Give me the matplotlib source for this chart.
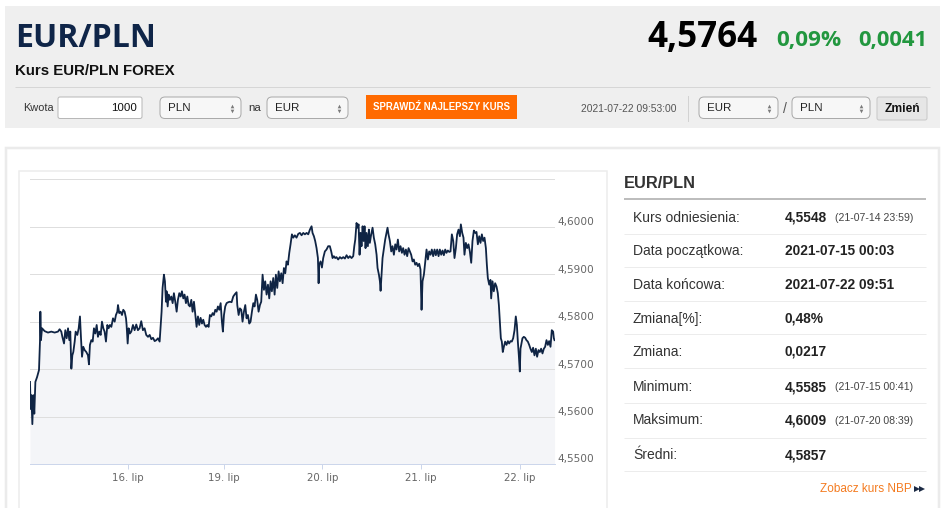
import matplotlib
matplotlib.use('Agg')
import matplotlib.pyplot as plt
from matplotlib.patches import Rectangle, FancyBboxPatch
from matplotlib.transforms import ScaledTranslation

# --- data (x = trading days from 15 Jul 00:00) ---
days = [0.000, 0.007, 0.014, 0.024, 0.034, 0.044, 0.055, 0.072, 0.092, 0.102, 0.106, 0.112, 0.123, 0.150,
        0.184, 0.218, 0.252, 0.286, 0.303, 0.320, 0.331, 0.348, 0.361, 0.375, 0.389, 0.402, 0.412, 0.423,
        0.433, 0.443, 0.457, 0.467, 0.484, 0.498, 0.511, 0.521, 0.532, 0.545, 0.559, 0.576, 0.593, 0.603,
        0.613, 0.627, 0.641, 0.654, 0.668, 0.682, 0.695, 0.709, 0.723, 0.736, 0.750, 0.763, 0.777, 0.791,
        0.804, 0.818, 0.832, 0.849, 0.866, 0.879, 0.893, 0.900, 0.913, 0.927, 0.941, 0.954, 0.968, 0.982,
        0.988, 0.999, 1.009, 1.022, 1.036, 1.053, 1.070, 1.087, 1.104, 1.121, 1.138, 1.155, 1.172, 1.189,
        1.207, 1.224, 1.241, 1.258, 1.275, 1.292, 1.309, 1.326,
        1.346, 1.356, 1.370, 1.380, 1.391, 1.397, 1.408, 1.418, 1.431, 1.445, 1.459, 1.472, 1.486, 1.500,
        1.513, 1.527, 1.541, 1.554, 1.568, 1.581, 1.595, 1.609, 1.622, 1.636, 1.650, 1.663, 1.677, 1.691,
        1.704, 1.718, 1.731, 1.745, 1.759, 1.772, 1.786, 1.800, 1.813, 1.827, 1.840, 1.854, 1.868, 1.881,
        1.895, 1.909, 1.922, 1.936, 1.950, 1.963, 1.973, 1.984, 1.997, 2.011, 2.028, 2.045, 2.062, 2.079,
        2.096, 2.113, 2.120, 2.134, 2.147, 2.161, 2.174, 2.188, 2.202, 2.215, 2.229, 2.243, 2.256, 2.270,
        2.284, 2.297, 2.311, 2.324, 2.338, 2.352, 2.365, 2.379, 2.393, 2.406, 2.420, 2.434, 2.447, 2.461,
        2.474, 2.488, 2.502, 2.515, 2.529, 2.543, 2.556, 2.570, 2.584, 2.597, 2.611, 2.624, 2.638, 2.652,
        2.665, 2.679, 2.693, 2.709, 2.726, 2.744, 2.761, 2.778, 2.795, 2.812, 2.829, 2.846, 2.863, 2.880,
        2.890, 2.904, 2.917, 2.931, 2.945, 2.952, 2.958, 2.972, 2.986, 2.999, 3.016, 3.033, 3.050, 3.067,
        3.081, 3.095, 3.108, 3.122, 3.135, 3.152, 3.170, 3.187, 3.204, 3.221, 3.238, 3.255, 3.272, 3.289,
        3.306, 3.317, 3.327, 3.340, 3.351, 3.361, 3.371, 3.381, 3.391, 3.402, 3.412, 3.422, 3.432, 3.442,
        3.456, 3.466, 3.476, 3.490, 3.504, 3.517, 3.531, 3.545, 3.555, 3.569, 3.579, 3.586, 3.596, 3.606,
        3.620, 3.633, 3.647, 3.657, 3.667, 3.681, 3.695, 3.708, 3.722, 3.736, 3.749, 3.763, 3.776, 3.790,
        3.804, 3.817, 3.831, 3.845, 3.858, 3.872, 3.885, 3.899, 3.913, 3.926, 3.940, 3.954, 3.967, 3.981,
        3.994, 4.005, 4.015, 4.029, 4.042, 4.056, 4.070, 4.083, 4.097, 4.110, 4.124, 4.138, 4.151, 4.165,
        4.179, 4.192, 4.206, 4.220, 4.233, 4.247, 4.260, 4.274, 4.288, 4.301, 4.315, 4.329, 4.342, 4.356,
        4.369, 4.383, 4.397, 4.407, 4.421, 4.434, 4.444, 4.458, 4.472, 4.485, 4.499, 4.513, 4.526, 4.540,
        4.554, 4.567, 4.581, 4.595, 4.608, 4.622, 4.635, 4.649, 4.663, 4.673, 4.683, 4.697, 4.710, 4.717,
        4.731, 4.744, 4.758, 4.772, 4.785, 4.796, 4.806, 4.816, 4.826, 4.836, 4.847, 4.860, 4.874, 4.888,
        4.901, 4.915, 4.928, 4.942, 4.956, 4.969, 4.980, 4.990, 5.000, 5.010, 5.017, 5.027, 5.037, 5.051,
        5.065, 5.078, 5.092, 5.106, 5.119, 5.133, 5.146, 5.160, 5.174, 5.187, 5.201, 5.215, 5.228, 5.242,
        5.256, 5.269, 5.283, 5.297, 5.310, 5.324, 5.337, 5.351, 5.358, 5.365]
rate = [4.5673, 4.5616, 4.5645, 4.5584, 4.5645, 4.5606, 4.5673, 4.5683, 4.5698, 4.5758, 4.5821, 4.5761, 4.5786, 4.5780,
        4.5777, 4.5779, 4.5777, 4.5779, 4.5784, 4.5779, 4.5768, 4.5754, 4.5782, 4.5765, 4.5786, 4.5761, 4.5779, 4.5701,
        4.5729, 4.5736, 4.5758, 4.5779, 4.5772, 4.5786, 4.5811, 4.5768, 4.5726, 4.5747, 4.5740, 4.5736, 4.5729, 4.5710,
        4.5751, 4.5761, 4.5758, 4.5786, 4.5775, 4.5793, 4.5768, 4.5779, 4.5772, 4.5800, 4.5786, 4.5779, 4.5758, 4.5793,
        4.5786, 4.5793, 4.5789, 4.5807, 4.5800, 4.5814, 4.5821, 4.5835, 4.5818, 4.5821, 4.5814, 4.5825, 4.5821, 4.5807,
        4.5793, 4.5754, 4.5786, 4.5775, 4.5779, 4.5793, 4.5782, 4.5794, 4.5782, 4.5786, 4.5801, 4.5782, 4.5786, 4.5772,
        4.5768, 4.5772, 4.5763, 4.5766, 4.5759, 4.5761, 4.5765, 4.5758,
        4.5821, 4.5871, 4.5899, 4.5885, 4.5842, 4.5864, 4.5832, 4.5857, 4.5846, 4.5853, 4.5839, 4.5860, 4.5842, 4.5821,
        4.5846, 4.5860, 4.5853, 4.5864, 4.5849, 4.5857, 4.5839, 4.5853, 4.5835, 4.5832, 4.5846, 4.5821, 4.5842, 4.5814,
        4.5789, 4.5811, 4.5793, 4.5808, 4.5796, 4.5804, 4.5793, 4.5789, 4.5793, 4.5789, 4.5814, 4.5811, 4.5818, 4.5814,
        4.5825, 4.5821, 4.5832, 4.5825, 4.5839, 4.5800, 4.5779, 4.5814, 4.5832, 4.5839, 4.5841, 4.5842, 4.5841, 4.5853,
        4.5858, 4.5862, 4.5835, 4.5814, 4.5828, 4.5825, 4.5800, 4.5821, 4.5835, 4.5807, 4.5814, 4.5796, 4.5800, 4.5821,
        4.5839, 4.5832, 4.5857, 4.5846, 4.5821, 4.5835, 4.5842, 4.5899, 4.5867, 4.5885, 4.5857, 4.5878, 4.5849, 4.5885,
        4.5864, 4.5892, 4.5857, 4.5899, 4.5871, 4.5906, 4.5885, 4.5902, 4.5881, 4.5913, 4.5902, 4.5927, 4.5920, 4.5945,
        4.5963, 4.5984, 4.5977, 4.5982, 4.5977, 4.5985, 4.5987, 4.5982, 4.5987, 4.5984, 4.5987, 4.5984, 4.5994, 4.6001,
        4.5987, 4.5980, 4.5970, 4.5955, 4.5934, 4.5881, 4.5920, 4.5927, 4.5914, 4.5934, 4.5948, 4.5952, 4.5959, 4.5959,
        4.5948, 4.5934, 4.5938, 4.5934, 4.5936, 4.5931, 4.5936, 4.5933, 4.5936, 4.5933, 4.5940, 4.5934, 4.5938, 4.5934,
        4.5938, 4.5959, 4.5973, 4.6008, 4.5998, 4.6005, 4.5941, 4.5987, 4.5959, 4.6001, 4.5970, 4.6001, 4.5955, 4.5987,
        4.5959, 4.5994, 4.5966, 4.5984, 4.5998, 4.5977, 4.5963, 4.5941, 4.5913, 4.5899, 4.5885, 4.5865, 4.5899, 4.5934,
        4.5955, 4.5973, 4.5987, 4.5998, 4.5984, 4.5970, 4.5948, 4.5959, 4.5941, 4.5963, 4.5952, 4.5973, 4.5948, 4.5959,
        4.5945, 4.5955, 4.5941, 4.5952, 4.5938, 4.5955, 4.5948, 4.5941, 4.5927, 4.5931, 4.5920, 4.5924, 4.5917, 4.5922,
        4.5910, 4.5825, 4.5885, 4.5899, 4.5924, 4.5952, 4.5931, 4.5948, 4.5941, 4.5952, 4.5938, 4.5952, 4.5940, 4.5952,
        4.5938, 4.5952, 4.5941, 4.5950, 4.5940, 4.5952, 4.5945, 4.5950, 4.5947, 4.5948, 4.5984, 4.5970, 4.5934, 4.5955,
        4.5984, 4.5994, 4.5980, 4.6005, 4.5987, 4.5977, 4.5941, 4.5966, 4.5955, 4.5963, 4.5948, 4.5924, 4.5970, 4.5992,
        4.5987, 4.5989, 4.5963, 4.5980, 4.5966, 4.5984, 4.5970, 4.5977, 4.5955, 4.5920, 4.5892, 4.5878, 4.5888, 4.5849,
        4.5885, 4.5864, 4.5881, 4.5874, 4.5860, 4.5835, 4.5800, 4.5765, 4.5758, 4.5736, 4.5747, 4.5758, 4.5751, 4.5759,
        4.5754, 4.5759, 4.5758, 4.5765, 4.5782, 4.5811, 4.5793, 4.5758, 4.5729, 4.5695, 4.5743, 4.5754, 4.5765, 4.5768,
        4.5766, 4.5761, 4.5758, 4.5751, 4.5743, 4.5736, 4.5745, 4.5729, 4.5743, 4.5726, 4.5740, 4.5736, 4.5743, 4.5733,
        4.5743, 4.5747, 4.5761, 4.5751, 4.5759, 4.5747, 4.5782, 4.5779, 4.5765, 4.5761]

x_tick_pos = [1.0, 1.98, 2.99, 4.0, 5.01]
x_tick_labels = ['16. lip', '19. lip', '20. lip', '21. lip', '22. lip']
y_ticks = [4.55, 4.56, 4.57, 4.58, 4.59, 4.60]
y_grid = [4.56, 4.57, 4.58, 4.59, 4.60, 4.61]

pair = 'EUR/PLN'
last_rate = '4,5764'
change_pct = '0,09%'
change_abs = '0,0041'
timestamp = '2021-07-22 09:53:00'

row_labels = ['Kurs odniesienia:', 'Data początkowa:', 'Data końcowa:', 'Zmiana[%]:',
              'Zmiana:', 'Minimum:', 'Maksimum:', 'Średni:']
row_values = ['4,5548', '2021-07-15 00:03', '2021-07-22 09:51', '0,48%',
              '0,0217', '4,5585', '4,6009', '4,5857']
row_notes = ['(21-07-14 23:59)', '', '', '', '', '(21-07-15 00:41)', '(21-07-20 08:39)', '']

ARIAL = 'Liberation Sans'
OPEN = 'Open Sans'

W, H = 948, 508
fig = plt.figure(figsize=(W / 100, H / 100), dpi=100)
fig.patch.set_facecolor('white')

bg = fig.add_axes([0, 0, 1, 1])
bg.set_xlim(0, W)
bg.set_ylim(H, 0)
bg.axis('off')


def pt(px):
    return px * 0.72


def rect(x0, y0, x1, y1, fc='none', ec='none', lw=1.0, r=0):
    if r:
        p = FancyBboxPatch((x0, y0), x1 - x0, y1 - y0, boxstyle=f'round,pad=0,rounding_size={r}',
                           fc=fc, ec=ec, lw=pt(lw))
    else:
        p = Rectangle((x0, y0), x1 - x0, y1 - y0, fc=fc, ec=ec, lw=pt(lw))
    bg.add_patch(p)


def hline(y, x0, x1, color, lw=1.0):
    bg.plot([x0, x1], [y, y], color=color, lw=pt(lw), solid_capstyle='butt')


def select(x0, x1, label):
    rect(x0, 97, x1, 118.5, fc='#f7f7f7', ec='#aaaaaa', lw=1, r=5)
    bg.text(x0 + 8, 108, label, family=ARIAL, fontsize=pt(11.5), color='#222222', va='center')
    bg.plot([x1 - 9], [105.5], marker='^', ms=2.6, color='#7a7a7a', mew=0)
    bg.plot([x1 - 9], [110.5], marker='v', ms=2.6, color='#7a7a7a', mew=0)


# header band
rect(5, 6, 940, 128, fc='#efefef')
bg.text(15, 47, pair, family=OPEN, fontweight='bold', fontsize=pt(32), color='#0f2548', va='baseline')
bg.text(15, 75, 'Kurs EUR/PLN FOREX', family=ARIAL, fontweight='bold', fontsize=pt(15),
        color='#111111', va='baseline')
bg.text(758, 47, last_rate, family=OPEN, fontweight='bold', fontsize=pt(35), color='#000000',
        va='baseline', ha='right')
bg.text(776, 46, change_pct, family=OPEN, fontweight='bold', fontsize=pt(22.5), color='#22973f', va='baseline')
bg.text(858, 46, change_abs, family=OPEN, fontweight='bold', fontsize=pt(22), color='#22973f', va='baseline')
hline(87, 15, 930, '#d6d6d6')

# controls row
bg.text(23, 108, 'Kwota', family=ARIAL, fontsize=pt(11), color='#333333', va='center')
rect(58, 97, 142, 118.5, fc='white', ec='#b8b8b8', lw=1, r=2)
bg.text(137, 108, '1000', family=ARIAL, fontsize=pt(11.5), color='#111111', va='center', ha='right')
select(160, 241, 'PLN')
bg.text(248, 108, 'na', family=ARIAL, fontsize=pt(11.5), color='#333333', va='center')
select(267, 348, 'EUR')
rect(366, 95, 517, 119, fc='#ff6a00')
bg.text(441.5, 107.5, 'SPRAWDŹ NAJLEPSZY KURS', family=ARIAL, fontweight='bold', fontsize=pt(9.6),
        color='white', va='center', ha='center')
bg.text(581, 109, timestamp, family=ARIAL, fontsize=pt(10.3), color='#555555', va='center')
bg.plot([688, 688], [96, 121], color='#d2d2d2', lw=pt(1))
select(699, 778, 'EUR')
bg.text(785, 109, '/', family=ARIAL, fontsize=pt(14), color='#555555', va='center', ha='center')
select(792, 870, 'PLN')
rect(877, 97, 927, 120, fc='#e6e6e6', ec='#c9c9c9', lw=1, r=2)
bg.text(902, 108.5, 'Zmień', family=ARIAL, fontweight='bold', fontsize=pt(12), color='#111111',
        va='center', ha='center')

# panels
rect(6, 148, 939, 515, fc='white', ec='#ebebeb', lw=2.5)
rect(19.5, 170.5, 607, 515, fc='white', ec='#ececec', lw=1.5)

# right table
bg.text(624, 188, pair, family=ARIAL, fontweight='bold', fontsize=pt(16.4), color='#333333', va='baseline')
hline(199, 624, 926, '#bdbdbd', lw=2)
row_y = [217.5, 251, 285, 318.5, 352, 387, 420.5, 455]
sep_y = [233.5, 267, 300.5, 334, 367.5, 403, 437.5, 471]
for y, lab, val, note in zip(row_y, row_labels, row_values, row_notes):
    bg.text(633, y, lab, family=ARIAL, fontsize=pt(13.9), color='#333333', va='center')
    bg.text(785, y, val, family=ARIAL, fontweight='bold', fontsize=pt(13.7), color='#222222', va='center')
    if note:
        bg.text(835, y + 0.5, note, family=ARIAL, fontsize=pt(10.5), color='#444444', va='center')
for y in sep_y:
    hline(y, 624, 926, '#ececec')
bg.text(912, 489, 'Zobacz kurs NBP', family=ARIAL, fontsize=pt(11.8), color='#f47b20', va='center', ha='right')
bg.plot([917.5, 922], [489, 489], ls='none', marker='>', ms=4, color='#1c2a44', mew=0)

# chart
ax = fig.add_axes([30 / W, (H - 464) / H, 525 / W, (464 - 179.3) / H])
ax.set_facecolor('none')
ax.fill_between(days, rate, 4.55, color='#f4f5f8', lw=0, zorder=1)
for g in y_grid:
    ax.axhline(g, color='#dedede', lw=pt(1), zorder=2)
ax.plot(days, rate, color='#0f2444', lw=1.3, zorder=3)
ax.set_xlim(0, 5.37)
ax.set_ylim(4.55, 4.61)
for s in ['top', 'left', 'right']:
    ax.spines[s].set_visible(False)
ax.spines['bottom'].set_color('#ccd6eb')
ax.spines['bottom'].set_linewidth(pt(1))
ax.set_xticks(x_tick_pos)
ax.set_xticklabels(x_tick_labels)
ax.tick_params(axis='x', length=3.6, width=pt(1), color='#ccd6eb', pad=3.2, labelsize=7.4, labelcolor='#666666')
ax.yaxis.tick_right()
ax.set_yticks(y_ticks)
ax.set_yticklabels([f'{v:.4f}'.replace('.', ',') for v in y_ticks])
ax.tick_params(axis='y', length=0, pad=2, labelsize=7.6, labelcolor='#666666')
shift = ScaledTranslation(0, 5.5 / 100, fig.dpi_scale_trans)
for lab in ax.get_yticklabels():
    lab.set_transform(lab.get_transform() + shift)

fig.savefig('out.png', dpi=100, facecolor='white')
